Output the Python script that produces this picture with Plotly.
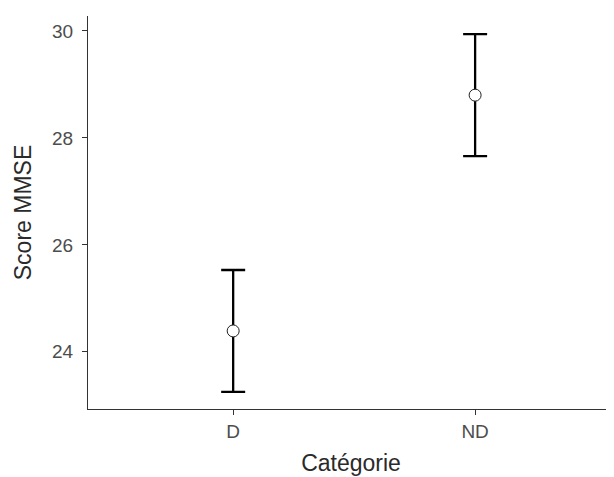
import plotly.graph_objects as go

categories = ["D", "ND"]
means = [24.39, 28.80]
errors = [1.14, 1.14]
y_ticks = [24, 26, 28, 30]

fig = go.Figure()
fig.add_trace(go.Scatter(
    x=categories, y=means, mode="markers",
    marker=dict(size=12, color="white", line=dict(color="#222222", width=1)),
    error_y=dict(type="data", array=errors, visible=True, color="black", thickness=2.3, width=12),
    showlegend=False, cliponaxis=False,
))

axis_common = dict(
    showline=True, linecolor="#333333", linewidth=1.3, showgrid=False, zeroline=False,
    ticks="outside", ticklen=5, tickwidth=1.3, tickcolor="#333333",
    tickfont=dict(family="Liberation Sans, Arial", size=19, color="#4d4d4d"),
    title_font=dict(family="Liberation Sans, Arial", size=23, color="#2a2a2a"),
)

fig.update_layout(
    width=606, height=469,
    margin=dict(l=80, r=0, t=8, b=68),
    plot_bgcolor="white", paper_bgcolor="white",
    xaxis=dict(type="category", range=[-0.6, 1.574], title=dict(text="Catégorie", standoff=13),
               ticklabelstandoff=0, **axis_common),
    yaxis=dict(range=[22.93, 30.28], tickvals=y_ticks, title=dict(text="Score MMSE", standoff=13),
               ticklabelstandoff=5, **axis_common),
)

fig.write_html("out.html")
